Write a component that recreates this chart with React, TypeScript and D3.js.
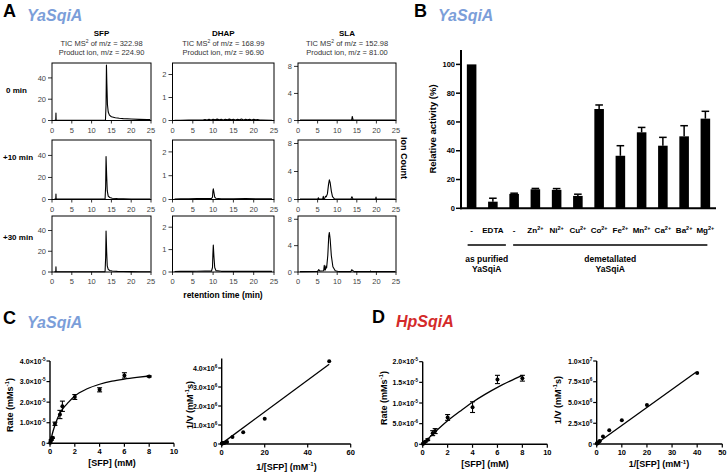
import React from 'react';
import * as d3 from 'd3';

const FONT = '"Liberation Sans", Arial, Helvetica, sans-serif';
const BLUE = '#7b9ed9';
const RED = '#d42a2a';

// ---------- Panel A data ----------
const chromTicksX = [0, 5, 10, 15, 20, 25];
const compounds = ['SFP', 'DHAP', 'SLA'];
const ticMz = ['322.98', '168.99', '152.98'];
const productMz = ['224.90', '96.90', '81.00'];
const yMaxA = [54, 2.5, 8.5];
const yTicksA = [[0, 20, 40], [0, 1, 2], [0, 4, 8]];
const timepoints = ['0 min', '+10 min', '+30 min'];

const sfp0 = [[0.6,0.3],[0.95,0.3],[1.0,7],[1.05,0.3],[4,0.3],[8,0.3],[12,0.3],[13.5,0.4],[13.65,15],[13.75,52],[13.85,35],[14.0,15],[14.2,8],[14.5,5],[15,3.5],[16,2.6],[17,2.1],[18,1.8],[20,1.4],[22,1.1],[24,0.9],[24.8,0.8]];
const sfp10 = [[0.6,0.3],[0.95,0.3],[1.0,5],[1.05,0.3],[4,0.3],[8,0.3],[12,0.3],[13.4,0.4],[13.55,12],[13.65,39],[13.8,22],[13.95,8],[14.2,3],[14.6,1.8],[15.2,1.2],[16.5,0.9],[18,0.7],[20,0.5],[22,0.4],[24.8,0.3]];
const sfp30 = [[0.6,0.3],[0.95,0.3],[1.0,5],[1.05,0.3],[4,0.3],[8,0.3],[12,0.3],[13.4,0.4],[13.55,14],[13.65,39.5],[13.8,20],[13.95,6],[14.2,2.5],[14.6,1.4],[15.2,0.9],[16.5,0.6],[18,0.5],[20,0.4],[22,0.3],[24.8,0.3]];
const dhap0 = [[0.5,0.01],[2,0.01],[4,0.015],[6,0.02],[7.5,0.02],[8,0.04],[8.5,0.02],[9,0.05],[9.5,0.02],[10,0.05],[10.5,0.03],[11,0.06],[11.5,0.03],[12,0.05],[12.5,0.02],[13,0.05],[13.5,0.03],[14,0.06],[14.5,0.03],[15,0.05],[15.5,0.02],[16,0.05],[16.5,0.03],[17,0.06],[17.5,0.02],[18,0.05],[18.5,0.03],[19,0.05],[19.5,0.02],[20,0.05],[20.5,0.03],[21,0.04],[21.5,0.02],[22,0.02],[24.5,0.01]];
const dhap10 = [[0.5,0.02],[2,0.03],[4,0.03],[6,0.035],[8,0.04],[9.6,0.04],[9.85,0.1],[9.95,0.35],[10.05,0.45],[10.2,0.3],[10.4,0.1],[10.7,0.05],[12,0.03],[15,0.03],[18,0.035],[21,0.03],[24.5,0.03]];
const dhap30 = [[0.5,0.02],[2,0.03],[4,0.03],[6,0.035],[8,0.04],[9.6,0.04],[9.85,0.2],[9.95,0.8],[10.05,1.2],[10.2,0.7],[10.4,0.2],[10.7,0.06],[12,0.03],[15,0.03],[18,0.03],[21,0.03],[24.5,0.03]];
const sla0 = [[0.5,0.05],[6,0.05],[10,0.06],[13,0.05],[13.7,0.1],[13.85,0.6],[14.05,0.1],[15,0.06],[20,0.05],[24.8,0.05]];
const sla10 = [[0.5,0.05],[5,0.05],[5.2,0.25],[5.4,0.05],[6.3,0.1],[6.45,0.45],[6.6,0.1],[6.85,0.2],[7.0,0.45],[7.2,0.4],[7.5,0.8],[7.8,2.2],[8.0,2.8],[8.2,2.4],[8.5,1.2],[8.8,0.4],[9.3,0.1],[10,0.05],[13.5,0.05],[13.75,0.4],[14.05,0.05],[19.8,0.05],[19.9,0.35],[20.0,0.05],[24.8,0.05]];
const sla30 = [[0.5,0.05],[5,0.1],[5.3,0.35],[5.6,0.15],[6.55,0.2],[6.7,1.0],[6.85,0.3],[7.0,0.3],[7.1,0.9],[7.3,0.6],[7.6,2.5],[7.85,5.5],[8.0,6.0],[8.2,5.0],[8.5,2.5],[8.9,0.8],[9.5,0.2],[10.5,0.05],[13.5,0.05],[13.7,0.35],[14.0,0.2],[14.3,0.05],[18.4,0.05],[18.5,0.15],[18.6,0.05],[24.8,0.05]];
const chromData = [
  [sfp0, dhap0, sla0],
  [sfp10, dhap10, sla10],
  [sfp30, dhap30, sla30],
];

// ---------- Panel B data ----------
const metalCats = ['-', 'EDTA', '-', 'Zn', 'Ni', 'Cu', 'Co', 'Fe', 'Mn', 'Ca', 'Ba', 'Mg'];
const metalSup = ['', '', '', '2+', '2+', '2+', '2+', '2+', '2+', '2+', '2+', '2+'];
const activity = [100, 4.6, 10, 13.2, 12.8, 8.6, 69, 36.5, 52.8, 43.5, 50, 62.3];
const activityErr = [0, 2.4, 0.5, 0.6, 0.9, 1.2, 2.8, 7, 3.4, 5.8, 7.4, 5.1];
const activityTicks = [0, 20, 40, 60, 80, 100];
const groups = [
  { label: 'as purified', first: 0, last: 1 },
  { label: 'demetallated', first: 2, last: 11 },
];

// ---------- Panel C data ----------
const concC = [0.02, 0.05, 0.1, 0.2, 0.4, 0.8, 1, 2, 4, 6, 8];
const rateC = [0.023e-5, 0.075e-5, 0.16e-5, 0.27e-5, 0.95e-5, 1.4e-5, 1.8e-5, 2.25e-5, 2.6e-5, 3.3e-5, 3.25e-5];
const rateCErr = [0, 0, 0.02e-5, 0.03e-5, 0.08e-5, 0.2e-5, 0.25e-5, 0.12e-5, 0.1e-5, 0.13e-5, 0.03e-5];
const fitC = [[0,0],[0.25,0.6e-5],[0.5,1.05e-5],[0.75,1.4e-5],[1,1.65e-5],[1.5,2.0e-5],[2,2.3e-5],[3,2.65e-5],[4,2.87e-5],[5,3.02e-5],[6,3.12e-5],[7,3.2e-5],[8,3.27e-5]];
const invConcC = [50, 20, 10, 5, 2.5, 1.25, 1, 0.5, 0.25, 0.167, 0.125];
const invRateC = [4.35e6, 1.33e6, 0.62e6, 0.37e6, 0.105e6, 0.071e6, 0.056e6, 0.044e6, 0.038e6, 0.03e6, 0.031e6];
const lbFitC = [[0, 0.02e6], [50, 4.2e6]];

// ---------- Panel D data ----------
const concD = [0.025, 0.05, 0.1, 0.2, 0.4, 0.8, 1, 2, 4, 6, 8];
const rateD = [0.012e-5, 0.021e-5, 0.035e-5, 0.06e-5, 0.11e-5, 0.27e-5, 0.32e-5, 0.65e-5, 0.9e-5, 1.57e-5, 1.6e-5];
const rateDErr = [0, 0, 0, 0.01e-5, 0.02e-5, 0.06e-5, 0.06e-5, 0.07e-5, 0.13e-5, 0.1e-5, 0.07e-5];
const fitD = [[0,0],[0.5,0.155e-5],[1,0.3e-5],[2,0.57e-5],[3,0.8e-5],[4,1.02e-5],[5,1.21e-5],[6,1.38e-5],[7,1.53e-5],[8,1.67e-5]];
const invConcD = [40, 20, 10, 5, 2.5, 1.25, 1, 0.5, 0.25, 0.167, 0.125];
const invRateD = [8.55e6, 4.7e6, 2.85e6, 1.65e6, 0.9e6, 0.37e6, 0.31e6, 0.154e6, 0.11e6, 0.064e6, 0.062e6];
const lbFitD = [[0, 0.05e6], [39.5, 8.65e6]];

const ticksRateC = [0, 1e-5, 2e-5, 3e-5, 4e-5];
const ticksConcC = [0, 2, 4, 6, 8, 10];
const ticksInvRateC = [0, 1e6, 2e6, 3e6, 4e6];
const ticksInvConcC = [0, 20, 40, 60];
const ticksRateD = [0, 5e-6, 1e-5, 1.5e-5, 2e-5];
const ticksConcD = [0, 2, 4, 6, 8, 10];
const ticksInvRateD = [0, 2.5e6, 5e6, 7.5e6, 1e7];
const ticksInvConcD = [0, 10, 20, 30, 40, 50];

// ---------- helpers ----------
function sci(v: number) {
  if (v === 0) return { m: '0', e: '' };
  let e = Math.floor(Math.log10(v) + 1e-9);
  let m = v / Math.pow(10, e);
  return { m: m.toFixed(1) + '×10', e: String(e) };
}

function Title({ x, y, letter, name, color }: any) {
  return (
    <g fontFamily={FONT} fontWeight="bold">
      <text x={x} y={y} fontSize={18} fill="#000">{letter}</text>
      <text x={x + 24} y={y + 4} fontSize={16} fill={color} fontStyle="italic">{name}</text>
    </g>
  );
}

function Chrom({ data, x0, x1, y0, y1, ymax, yticks }: any) {
  const xs = d3.scaleLinear().domain([0, 25]).range([x0, x1]);
  const ys = d3.scaleLinear().domain([0, ymax]).range([y1, y0]);
  const line = d3.line<any>().x(d => xs(d[0])).y(d => ys(d[1]));
  return (
    <g>
      <rect x={x0} y={y0} width={x1 - x0} height={y1 - y0} fill="none" stroke="#000" strokeWidth={1} />
      <path d={line(data) || ''} fill="none" stroke="#000" strokeWidth={1.1} strokeLinejoin="round" />
      {chromTicksX.map(t => (
        <g key={'x' + t}>
          <line x1={xs(t)} x2={xs(t)} y1={y1} y2={y1 + 3} stroke="#000" strokeWidth={0.8} />
          <text x={xs(t)} y={y1 + 12} fontSize={7.5} textAnchor="middle" fill="#444" fontFamily={FONT}>{t}</text>
        </g>
      ))}
      {yticks.map((t: number) => (
        <g key={'y' + t}>
          <line x1={x0 - 4} x2={x0} y1={ys(t)} y2={ys(t)} stroke="#000" strokeWidth={0.8} />
          <text x={x0 - 6} y={ys(t) + 2.7} fontSize={7.5} textAnchor="end" fill="#444" fontFamily={FONT}>{t}</text>
        </g>
      ))}
    </g>
  );
}

function Kinetic({ xr, yr, xd, yd, xticks, yticks, xs: xv, yv, err, fit }: any) {
  const xs = d3.scaleLinear().domain(xd).range(xr);
  const ys = d3.scaleLinear().domain(yd).range(yr);
  const line = d3.line<any>().x(d => xs(d[0])).y(d => ys(d[1])).curve(d3.curveMonotoneX);
  const y0 = ys(0);
  const x0 = xs(0);
  const topY = ys(yd[1]);
  return (
    <g fontFamily={FONT} fontWeight="bold">
      <line x1={x0} x2={x0} y1={y0 + 0.7} y2={topY} stroke="#000" strokeWidth={1.4} />
      <line x1={x0 - 0.7} x2={xs(xd[1])} y1={y0} y2={y0} stroke="#000" strokeWidth={1.4} />
      {yticks.map((t: number) => {
        const s = sci(t);
        return (
          <g key={'y' + t}>
            <line x1={x0 - 3.5} x2={x0} y1={ys(t)} y2={ys(t)} stroke="#000" strokeWidth={1.2} />
            <text x={x0 - 4.5} y={ys(t) + 2.5} fontSize={7} textAnchor="end">
              {s.m}{s.e && <tspan dy={-3} fontSize={4.6}>{s.e}</tspan>}
            </text>
          </g>
        );
      })}
      {xticks.map((t: number) => (
        <g key={'x' + t}>
          <line x1={xs(t)} x2={xs(t)} y1={y0} y2={y0 + 3.5} stroke="#000" strokeWidth={1.2} />
          <text x={xs(t)} y={y0 + 11} fontSize={7.5} textAnchor="middle">{t}</text>
        </g>
      ))}
      <path d={line(fit) || ''} fill="none" stroke="#000" strokeWidth={1.3} />
      {xv.map((x: number, i: number) => {
        const e = err ? err[i] : 0;
        const cx = xs(x), cy = ys(yv[i]);
        return (
          <g key={'p' + i}>
            {e > 0 && (
              <g stroke="#000" strokeWidth={1.1}>
                <line x1={cx} x2={cx} y1={ys(yv[i] - e)} y2={ys(yv[i] + e)} />
                <line x1={cx - 2.5} x2={cx + 2.5} y1={ys(yv[i] - e)} y2={ys(yv[i] - e)} />
                <line x1={cx - 2.5} x2={cx + 2.5} y1={ys(yv[i] + e)} y2={ys(yv[i] + e)} />
              </g>
            )}
            <circle cx={cx} cy={cy} r={2} fill="#000" />
          </g>
        );
      })}
    </g>
  );
}

function VLabel({ x, y, parts }: any) {
  return (
    <text transform={`translate(${x},${y}) rotate(-90)`} textAnchor="middle" fontSize={9} fontWeight="bold" fontFamily={FONT}>
      {parts}
    </text>
  );
}

export default function App() {
  const colX = [[52, 151], [172.5, 274], [298, 396]];
  const rowY = [[63, 120.5], [140, 199.5], [216, 272]];
  const rowLabelY = [93, 160, 240];
  const rowLabelX = [6, 3, 3];

  // Panel B scales
  const by = d3.scaleLinear().domain([0, 110]).range([208.3, 50]);
  const bx = d3.scaleBand<number>().domain(d3.range(metalCats.length)).range([461, 716]).paddingInner(0.55).paddingOuter(0.275);
  const bw = bx.bandwidth();
  const bc = (i: number) => (bx(i) as number) + bw / 2;
  const groupExt = [[-4, 13], [-1, 2]];

  return (
    <svg width={728} height={475} style={{ position: 'absolute', left: 0, top: 0, background: '#fff' }} fontFamily={FONT}>
      <rect x={0} y={0} width={728} height={475} fill="#fff" />
      {/* ----- Panel A ----- */}
      <Title x={3} y={17} letter="A" name="YaSqiA" color={BLUE} />
      {compounds.map((c, j) => {
        const cx = (colX[j][0] + colX[j][1]) / 2;
        return (
          <g key={c} fontFamily={FONT} textAnchor="middle">
            <text x={cx} y={36} fontSize={8} fontWeight="bold">{c}</text>
            <text x={cx} y={45.5} fontSize={7.5} fill="#333">TIC MS<tspan dy={-2.5} fontSize={5}>2</tspan><tspan dy={2.5}> of m/z = {ticMz[j]}</tspan></text>
            <text x={cx} y={55} fontSize={7.5} fill="#333">Product ion, m/z = {productMz[j]}</text>
          </g>
        );
      })}
      {timepoints.map((tp, i) => (
        <text key={tp} x={rowLabelX[i]} y={rowLabelY[i]} fontSize={8} fontWeight="bold">{tp}</text>
      ))}
      {chromData.map((row, i) =>
        row.map((d, j) => (
          <Chrom key={i + '-' + j} data={d} x0={colX[j][0]} x1={colX[j][1]} y0={rowY[i][0]} y1={rowY[i][1]} ymax={yMaxA[j]} yticks={yTicksA[j]} />
        ))
      )}
      <text x={223} y={298} fontSize={8.5} fontWeight="bold" textAnchor="middle">retention time (min)</text>
      <text transform="translate(401,158) rotate(90)" fontSize={9} fontWeight="bold" textAnchor="middle">Ion Count</text>

      {/* ----- Panel B ----- */}
      <Title x={414} y={17} letter="B" name="YaSqiA" color={BLUE} />
      <g fontFamily={FONT} fontWeight="bold">
        {activity.map((v, i) => (
          <g key={'bar' + i}>
            <rect x={bx(i)} y={by(v)} width={bw} height={by(0) - by(v)} fill="#000" />
            {activityErr[i] > 0 && (
              <g stroke="#000" strokeWidth={1.5}>
                <line x1={bc(i)} x2={bc(i)} y1={by(v)} y2={by(v + activityErr[i])} />
                <line x1={bc(i) - 3.8} x2={bc(i) + 3.8} y1={by(v + activityErr[i])} y2={by(v + activityErr[i])} />
              </g>
            )}
          </g>
        ))}
        <line x1={461} x2={461} y1={by(110)} y2={by(0) + 1} stroke="#000" strokeWidth={2} />
        <line x1={460} x2={716} y1={by(0)} y2={by(0)} stroke="#000" strokeWidth={2} />
        {activityTicks.map(t => (
          <g key={'bt' + t}>
            <line x1={456} x2={461} y1={by(t)} y2={by(t)} stroke="#000" strokeWidth={1.5} />
            <text x={455} y={by(t) + 2.7} fontSize={7.5} textAnchor="end">{t}</text>
          </g>
        ))}
        {metalCats.map((c, i) => (
          <text key={'bl' + i} x={bc(i)} y={233} fontSize={8} textAnchor="middle">
            {c}{metalSup[i] && <tspan dy={-3} fontSize={5.5}>{metalSup[i]}</tspan>}
          </text>
        ))}
        {groups.map((g, k) => {
          const xa = bc(g.first) + groupExt[k][0];
          const xb = bc(g.last) + groupExt[k][1];
          const mid = (xa + xb) / 2;
          return (
            <g key={g.label}>
              <line x1={xa} x2={xb} y1={245} y2={245} stroke="#000" strokeWidth={1.5} />
              <text x={mid} y={261.5} fontSize={8.5} textAnchor="middle">{g.label}</text>
              <text x={mid} y={271.5} fontSize={8.5} textAnchor="middle">YaSqiA</text>
            </g>
          );
        })}
        <text transform="translate(436,129) rotate(-90)" fontSize={9.5} textAnchor="middle">Relative activity (%)</text>
      </g>

      {/* ----- Panel C ----- */}
      <Title x={3} y={324} letter="C" name="YaSqiA" color={BLUE} />
      <Kinetic xr={[50, 174]} yr={[443.3, 361]} xd={[0, 10]} yd={[0, 4e-5]} xticks={ticksConcC} yticks={ticksRateC}
        xs={concC} yv={rateC} err={rateCErr} fit={fitC} />
      <VLabel x={12.5} y={405} parts={<>Rate (mMs<tspan dy={-3.5} fontSize={6}>-1</tspan><tspan dy={3.5}>)</tspan></>} />
      <text x={112} y={466} fontSize={9} fontWeight="bold" textAnchor="middle">[SFP] (mM)</text>

      <Kinetic xr={[221.7, 350.7]} yr={[444, 358.5]} xd={[0, 60]} yd={[0, 4.5e6]} xticks={ticksInvConcC} yticks={ticksInvRateC}
        xs={invConcC} yv={invRateC} err={null} fit={lbFitC} />
      <VLabel x={192.5} y={405} parts={<>1/V (mM<tspan dy={-3.5} fontSize={6}>-1</tspan><tspan dy={3.5}>s)</tspan></>} />
      <text x={286.5} y={469.5} fontSize={9} fontWeight="bold" textAnchor="middle">1/[SFP] (mM<tspan dy={-3.5} fontSize={6}>-1</tspan><tspan dy={3.5}>)</tspan></text>

      {/* ----- Panel D ----- */}
      <Title x={372} y={323} letter="D" name="HpSqiA" color={RED} />
      <Kinetic xr={[422.7, 547.3]} yr={[444.3, 361.7]} xd={[0, 10]} yd={[0, 2e-5]} xticks={ticksConcD} yticks={ticksRateD}
        xs={concD} yv={rateD} err={rateDErr} fit={fitD} />
      <VLabel x={386.5} y={398} parts={<>Rate (mMs<tspan dy={-3.5} fontSize={6}>-1</tspan><tspan dy={3.5}>)</tspan></>} />
      <text x={485} y={466.5} fontSize={9} fontWeight="bold" textAnchor="middle">[SFP] (mM)</text>

      <Kinetic xr={[596.7, 722.3]} yr={[444, 361]} xd={[0, 50]} yd={[0, 1e7]} xticks={ticksInvConcD} yticks={ticksInvRateD}
        xs={invConcD} yv={invRateD} err={null} fit={lbFitD} />
      <VLabel x={560.5} y={400} parts={<>1/V (mM<tspan dy={-3.5} fontSize={6}>-1</tspan><tspan dy={3.5}>s)</tspan></>} />
      <text x={659} y={467} fontSize={9} fontWeight="bold" textAnchor="middle">1/[SFP] (mM<tspan dy={-3.5} fontSize={6}>-1</tspan><tspan dy={3.5}>)</tspan></text>
    </svg>
  );
}
